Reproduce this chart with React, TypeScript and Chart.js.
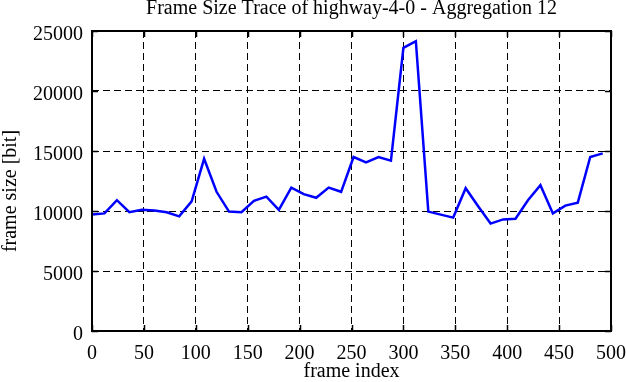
import React, { useEffect, useRef } from "react";
import { Chart, registerables } from "chart.js";

Chart.register(...registerables);

const chartTitle = "Frame Size Trace of highway-4-0 - Aggregation 12";
const xAxisLabel = "frame index";
const yAxisLabel = "frame size [bit]";

const frameIndex = [
  0, 12, 24, 36, 48, 60, 72, 84, 96, 108,
  120, 132, 144, 156, 168, 180, 192, 204, 216, 228,
  240, 252, 264, 276, 288, 300, 312, 324, 336, 348,
  360, 372, 384, 396, 408, 420, 432, 444, 456, 468,
  480, 492,
];
const frameSize = [
  9700, 9800, 10900, 9900, 10100, 10050, 9900, 9550, 10800, 14350,
  11600, 9950, 9900, 10850, 11200, 10100, 11950, 11400, 11100, 11950,
  11600, 14500, 14050, 14500, 14200, 23600, 24150, 9950, 9700, 9450,
  11900, 10400, 8950, 9300, 9350, 10900, 12150, 9800, 10450, 10700,
  14500, 14800,
];

const xMin = 0;
const xMax = 500;
const xStep = 50;
const yMin = 0;
const yMax = 25000;
const yStep = 5000;

const FONT_FAMILY = '"Liberation Serif", "DejaVu Serif", "Times New Roman", serif';
const FONT_SIZE = 20;

const framePlugin = {
  id: "gnuplotFrame",
  afterDatasetsDraw(chart: any) {
    const { ctx, chartArea } = chart;
    const { left, right, top, bottom } = chartArea;
    const xs = chart.scales.x;
    const ys = chart.scales.y;
    ctx.save();
    ctx.strokeStyle = "#000";
    ctx.setLineDash([]);
    ctx.lineWidth = 1.5;
    const tl = 6;
    ctx.beginPath();
    xs.ticks.forEach((t: any) => {
      const px = Math.round(xs.getPixelForValue(t.value)) + 0.5;
      ctx.moveTo(px, bottom);
      ctx.lineTo(px, bottom - tl);
      ctx.moveTo(px, top);
      ctx.lineTo(px, top + tl);
    });
    ys.ticks.forEach((t: any) => {
      const py = Math.round(ys.getPixelForValue(t.value)) + 0.5;
      ctx.moveTo(left, py);
      ctx.lineTo(left + tl, py);
      ctx.moveTo(right, py);
      ctx.lineTo(right - tl, py);
    });
    ctx.stroke();
    ctx.lineWidth = 2;
    ctx.strokeRect(left, top, right - left, bottom - top);
    ctx.fillStyle = "#000";
    ctx.font = `${FONT_SIZE}px ${FONT_FAMILY}`;
    ctx.textAlign = "center";
    // title
    ctx.textBaseline = "alphabetic";
    ctx.fillText(chartTitle, (left + right) / 2, 14);
    // x axis label
    ctx.textBaseline = "middle";
    ctx.fillText(xAxisLabel, (left + right) / 2, 372);
    // y axis label
    ctx.save();
    ctx.translate(10.5, chart.height / 2);
    ctx.rotate(-Math.PI / 2);
    ctx.textBaseline = "middle";
    ctx.fillText(yAxisLabel, 0, 0);
    ctx.restore();
    ctx.restore();
  },
};

export default function App() {
  const canvasRef = useRef<HTMLCanvasElement | null>(null);

  useEffect(() => {
    document.body.style.margin = "0";
    const canvas = canvasRef.current;
    if (!canvas) return;
    const points = frameIndex.map((x, i) => ({ x, y: frameSize[i] }));
    const tickFont = { family: FONT_FAMILY, size: FONT_SIZE };
    const chart = new Chart(canvas, {
      type: "line",
      data: {
        datasets: [
          {
            data: points,
            borderColor: "#0000ff",
            backgroundColor: "#0000ff",
            borderWidth: 2.5,
            pointRadius: 0,
            tension: 0,
            fill: false,
          },
        ],
      },
      options: {
        animation: false,
        responsive: false,
        events: [],
        layout: { padding: { top: 31, right: 15, bottom: 0, left: 0 } },
        plugins: {
          legend: { display: false },
          title: { display: false },
          tooltip: { enabled: false },
        },
        scales: {
          x: {
            type: "linear",
            min: xMin,
            max: xMax,
            ticks: {
              stepSize: xStep,
              color: "#000",
              font: tickFont,
              padding: 11,
              maxRotation: 0,
              autoSkip: false,
              callback: (v: any) => String(v),
            },
            grid: { color: "#000", lineWidth: 1, drawTicks: false },
            border: { display: false, dash: [7, 4] },
            afterFit: (scale: any) => {
              scale.height = 51;
              scale.paddingLeft = 0;
              scale.paddingRight = 0;
            },
          },
          y: {
            type: "linear",
            min: yMin,
            max: yMax,
            ticks: {
              stepSize: yStep,
              color: "#000",
              font: tickFont,
              padding: 9,
              labelOffset: 4,
              callback: (v: any) => String(v),
            },
            grid: { color: "#000", lineWidth: 1, drawTicks: false },
            border: { display: false, dash: [7, 4] },
            afterFit: (scale: any) => {
              scale.width = 92;
            },
          },
        },
      },
      plugins: [framePlugin],
    });
    return () => chart.destroy();
  }, []);

  return (
    <div style={{ width: 626, height: 382 }}>
      <canvas ref={canvasRef} width={626} height={382} style={{ display: "block" }} />
    </div>
  );
}
